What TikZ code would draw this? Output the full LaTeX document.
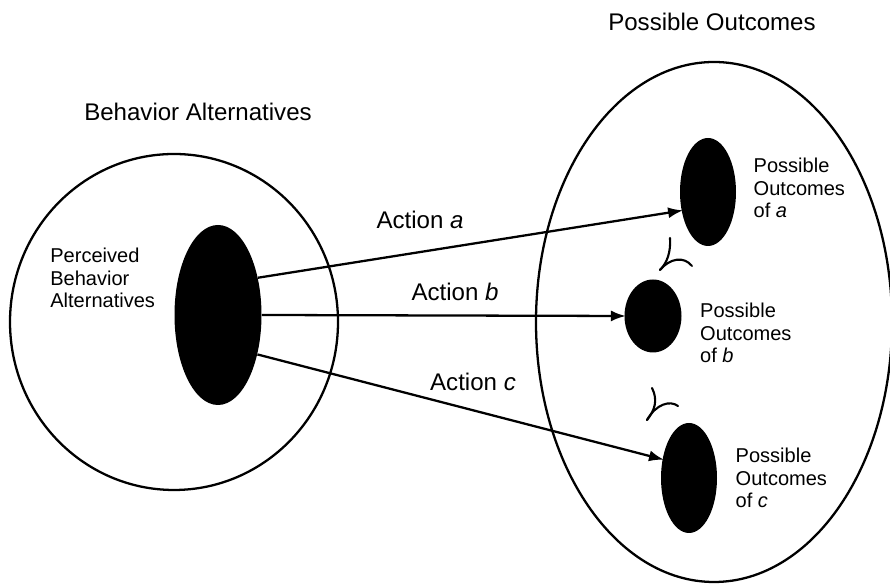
\documentclass[tikz,border=0pt]{standalone}
\usepackage{fontspec}
\setmainfont{Liberation Sans}
\usetikzlibrary{shapes.geometric,arrows.meta,positioning}

\tikzset{
	setring/.style={draw,ellipse,line width=1.3pt,inner sep=0pt},
	blob/.style={ellipse,fill=black,inner sep=0pt},
	action/.style={line width=1.3pt,-{Latex[length=3mm,width=2.2mm]},shorten >=-1pt},
	bigtext/.style={font=\fontsize{13.7}{16}\selectfont,inner sep=0pt},
	smalltext/.style={font=\fontsize{11.4}{12.9}\selectfont,align=left,inner sep=0pt},
	pref/.style={line width=1.2pt,line cap=round}
}

\begin{document}
\begin{tikzpicture}
			\useasboundingbox (0,0) rectangle (17.8,11.7);
			\node[setring,minimum width=6.56cm,minimum height=6.72cm] (behav) at (3.48,5.26) {};
			\node[setring,minimum width=7.12cm,minimum height=10.4cm] (outs) at (14.28,5.26) {};
			\node[blob,minimum width=1.74cm,minimum height=3.6cm] (perc) at (4.36,5.40) {};
			\node[blob,minimum width=1.12cm,minimum height=2.16cm] (outA) at (14.16,7.86) {};
			\node[blob,minimum width=1.14cm,minimum height=1.46cm] (outB) at (13.06,5.38) {};
			\node[blob,minimum width=1.12cm,minimum height=2.2cm] (outC) at (13.78,2.14) {};
			\node[bigtext] (titleB) at (3.96,9.46) {Behavior Alternatives};
			\node[bigtext] (titleO) at (14.24,11.26) {Possible Outcomes};
			\node[smalltext,anchor=west] (percL) at (1.0,6.14) {Perceived\\Behavior\\Alternatives};
			\node[smalltext,right=0.34cm of outA,yshift=0.08cm] (labA) {Possible\\Outcomes\\of \textit{a}};
			\node[smalltext,right=0.36cm of outB,yshift=-0.34cm] (labB) {Possible\\Outcomes\\of \textit{b}};
			\node[smalltext,right=0.36cm of outC] (labC) {Possible\\Outcomes\\of \textit{c}};
			\draw[action] (perc.43) -- (outA.215);
			\draw[action] (perc.east) -- (outB.west);
			\draw[action] (perc.-45) -- (outC.145);
			\node[bigtext] (actA) at (8.4,7.3) {Action \textit{a}};
			\node[bigtext] (actB) at (9.1,5.86) {Action \textit{b}};
			\node[bigtext] (actC) at (9.46,4.06) {Action \textit{c}};
			\draw[pref] (13.2,6.3) .. controls (13.34,6.44) and (13.42,6.66) .. (13.4,6.94);
			\draw[pref] (13.2,6.3) .. controls (13.4,6.54) and (13.68,6.58) .. (13.84,6.38);
			\draw[pref] (12.94,3.3) .. controls (13.1,3.5) and (13.16,3.7) .. (13.04,3.94);
			\draw[pref] (12.94,3.3) .. controls (13.12,3.62) and (13.4,3.7) .. (13.56,3.58);
		\end{tikzpicture}
\end{document}
